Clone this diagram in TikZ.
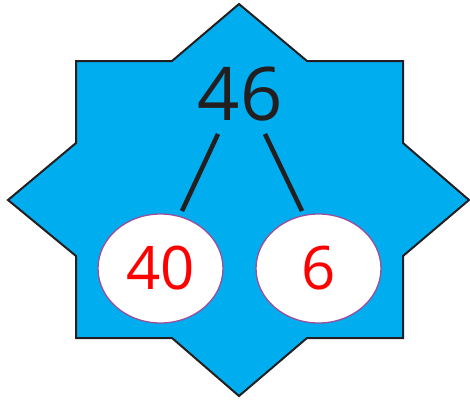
\documentclass[tikz,border=0pt]{standalone}
\usepackage{fontspec}
\setmainfont{Open Sans}
\usetikzlibrary{shapes.geometric}
\definecolor{starblue}{HTML}{00ADEF}
\definecolor{inkblack}{HTML}{231F20}
\definecolor{ringpurple}{HTML}{9B4F9B}
\definecolor{numred}{HTML}{FF0000}
\tikzset{
  starshape/.style={fill=starblue, draw=inkblack, line width=2pt, line join=miter},
  partbox/.style={ellipse, fill=white, draw=ringpurple, line width=1.3pt, minimum width=125pt, minimum height=109pt, inner sep=0pt, text=numred, font=\fontsize{60}{60}\selectfont},
  wholetext/.style={text=inkblack, font=\fontsize{74}{74}\selectfont, inner sep=0pt},
  link/.style={draw=inkblack, line width=4.5pt}
}
\begin{document}
\begin{tikzpicture}[x=1pt,y=-1pt]
\useasboundingbox (0,0) rectangle (470,399);
\draw[starshape] (239,4) -- (307,61) -- (403,61) -- (403,143) -- (469,200) -- (403,256) -- (403,338) -- (307,338) -- (239,396) -- (172,338) -- (76,338) -- (76,256) -- (8,200) -- (76,143) -- (76,61) -- (172,61) -- cycle;
\node[wholetext, anchor=base] (n46) at (240,120) {46};
\node[partbox] (n40) at (160.5,268.5) {40};
\node[partbox] (n6) at (318.5,268.5) {6};
\coordinate (l1a) at (218,134);
\coordinate (l1b) at (182,211);
\coordinate (l2a) at (265,134);
\coordinate (l2b) at (302,211);
\draw[link] (l1a) -- (l1b);
\draw[link] (l2a) -- (l2b);
\end{tikzpicture}
\end{document}
